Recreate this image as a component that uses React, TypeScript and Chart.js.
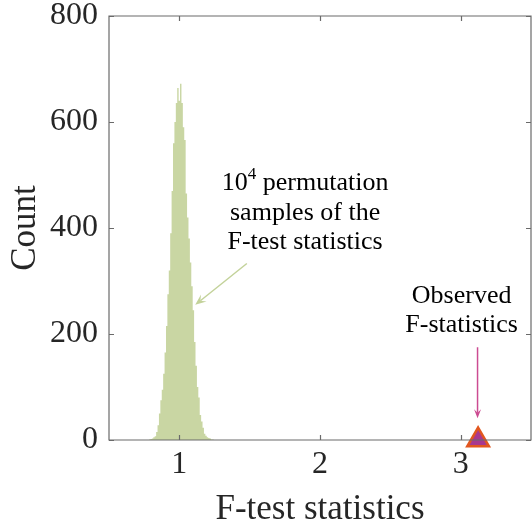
import React, { useEffect, useRef } from 'react';
import { Chart, registerables } from 'chart.js';

Chart.register(...registerables);

// Histogram of 10^4 permutation F-statistics (bin centers and counts)
const binCenters = [
  0.78, 0.79, 0.8, 0.81, 0.82, 0.83, 0.84, 0.85, 0.86, 0.87, 0.88,
  0.89, 0.9, 0.91, 0.92, 0.93, 0.94, 0.95, 0.96, 0.97, 0.98,
  0.99, 1.0, 1.01, 1.02, 1.03, 1.04, 1.05, 1.06, 1.07, 1.08,
  1.09, 1.1, 1.11, 1.12, 1.13, 1.14, 1.15, 1.16, 1.17, 1.18,
  1.19, 1.2, 1.21, 1.22, 1.23, 1.24, 1.25,
];
const binCounts = [
  0, 1, 2, 3, 5, 7, 15, 28, 50, 75, 95,
  125, 165, 215, 275, 320, 390, 470, 560, 600, 636,
  664, 640, 672, 636, 590, 566, 465, 420, 380, 335,
  290, 245, 185, 140, 100, 80, 47, 35, 23, 12,
  8, 5, 4, 3, 1, 1, 0,
];

// Observed F-statistic
const observedX = [3.124];
const observedY = [0];

const xTicks = [1, 2, 3];
const yTicks = [0, 200, 400, 600, 800];
const xRange = [0.5, 3.5];
const yRange = [0, 800];

const xTitle = 'F-test statistics';
const yTitle = 'Count';
const permText = ['10', '4', ' permutation', 'samples of the', 'F-test statistics'];
const obsText = ['Observed', 'F-statistics'];

const FONT = "'Liberation Serif', 'Times New Roman', serif";
const axisColor = '#6a6a6a';
const textColor = '#262626';
const barColor = '#c9d6a3';
const greenArrow = '#c3d29a';
const pinkArrow = '#cc4b92';

function arrow(ctx: CanvasRenderingContext2D, x1: number, y1: number, x2: number, y2: number, color: string, head: number, half: number) {
  const ang = Math.atan2(y2 - y1, x2 - x1);
  ctx.strokeStyle = color;
  ctx.fillStyle = color;
  ctx.lineWidth = 1.5;
  ctx.beginPath();
  ctx.moveTo(x1, y1);
  ctx.lineTo(x2 - Math.cos(ang) * head * 0.6, y2 - Math.sin(ang) * head * 0.6);
  ctx.stroke();
  ctx.beginPath();
  ctx.moveTo(x2, y2);
  ctx.lineTo(x2 - Math.cos(ang) * head + Math.sin(ang) * half, y2 - Math.sin(ang) * head - Math.cos(ang) * half);
  ctx.lineTo(x2 - Math.cos(ang) * head * 0.6, y2 - Math.sin(ang) * head * 0.6);
  ctx.lineTo(x2 - Math.cos(ang) * head - Math.sin(ang) * half, y2 - Math.sin(ang) * head + Math.cos(ang) * half);
  ctx.closePath();
  ctx.fill();
}

const annotationPlugin = {
  id: 'annotations',
  afterDatasetsDraw(chart: any) {
    const { ctx, scales } = chart;
    const xs = scales.x;
    const ys = scales.y;
    const X = (v: number) => xs.getPixelForValue(v);
    const Y = (v: number) => ys.getPixelForValue(v);
    ctx.save();
    ctx.fillStyle = '#000';
    ctx.textBaseline = 'middle';
    const big = `26px ${FONT}`;
    const small = `17px ${FONT}`;
    ctx.font = big;
    const w1 = ctx.measureText(permText[0]).width;
    const w3 = ctx.measureText(permText[2]).width;
    ctx.font = small;
    const w2 = ctx.measureText(permText[1]).width;
    const total = w1 + w2 + w3;
    const cx = X(1.894);
    const y = Y(485);
    const x = cx - total / 2;
    ctx.textAlign = 'left';
    ctx.font = big;
    ctx.fillText(permText[0], x, y);
    ctx.font = small;
    ctx.fillText(permText[1], x + w1, y - 8);
    ctx.font = big;
    ctx.fillText(permText[2], x + w1 + w2, y);
    ctx.textAlign = 'center';
    ctx.fillText(permText[3], cx, Y(428));
    ctx.fillText(permText[4], cx, Y(374));
    const ox = X(3.007);
    ctx.fillText(obsText[0], ox, Y(272));
    ctx.fillText(obsText[1], ox, Y(217));
    arrow(ctx, X(1.48), Y(333), X(1.113), Y(255), greenArrow, 11, 4.5);
    arrow(ctx, X(3.12), Y(175), X(3.12), Y(41), pinkArrow, 9, 3.5);
    ctx.restore();
  },
};

const boxPlugin = {
  id: 'box',
  afterDraw(chart: any) {
    const { ctx, chartArea: a, scales } = chart;
    const xs = scales.x;
    const ys = scales.y;
    ctx.save();
    ctx.strokeStyle = axisColor;
    ctx.lineWidth = 1.2;
    ctx.beginPath();
    ctx.rect(a.left, a.top, a.right - a.left, a.bottom - a.top);
    ctx.stroke();
    ctx.beginPath();
    const tl = 5;
    xTicks.forEach((v) => {
      const px = Math.round(xs.getPixelForValue(v)) + 0.5;
      ctx.moveTo(px, a.bottom);
      ctx.lineTo(px, a.bottom - tl);
      ctx.moveTo(px, a.top);
      ctx.lineTo(px, a.top + tl);
    });
    yTicks.forEach((v) => {
      const py = Math.round(ys.getPixelForValue(v)) + 0.5;
      ctx.moveTo(a.left, py);
      ctx.lineTo(a.left + tl, py);
      ctx.moveTo(a.right, py);
      ctx.lineTo(a.right - tl, py);
    });
    ctx.stroke();
    ctx.restore();
  },
};

export default function App() {
  const ref = useRef<HTMLCanvasElement | null>(null);
  useEffect(() => {
    if (!ref.current) return;
    const chart = new Chart(ref.current, {
      type: 'scatter',
      data: {
        datasets: [
          {
            type: 'line',
            data: binCenters.map((c, i) => ({ x: c, y: binCounts[i] })),
            stepped: 'middle',
            fill: 'origin',
            backgroundColor: barColor,
            borderColor: barColor,
            borderWidth: 0,
            pointRadius: 0,
            order: 2,
          } as any,
          {
            type: 'scatter',
            data: observedX.map((v, i) => ({ x: v, y: observedY[i] })),
            pointStyle: 'triangle',
            pointRadius: 12.5,
            backgroundColor: '#a8388f',
            borderColor: '#e2571f',
            borderWidth: 2.5,
            clip: false,
            order: 1,
          } as any,
        ],
      },
      options: {
        responsive: false,
        animation: false,
        events: [],
        layout: { autoPadding: false, padding: { top: 16, right: 1, left: 0, bottom: 0 } },
        plugins: { legend: { display: false }, tooltip: { enabled: false } },
        scales: {
          x: {
            type: 'linear',
            min: xRange[0],
            max: xRange[1],
            offset: false,
            grid: { display: false, offset: false, drawTicks: false },
            border: { display: false },
            afterBuildTicks: (s: any) => {
              s.ticks = xTicks.map((v) => ({ value: v }));
            },
            afterFit: (s: any) => {
              s.height = 88;
              s.paddingLeft = 0;
              s.paddingRight = 0;
            },
            ticks: {
              padding: 9,
              color: textColor,
              font: { family: FONT, size: 32, lineHeight: 1 },
              maxRotation: 0,
              autoSkip: false,
            },
            title: {
              display: true,
              text: xTitle,
              color: textColor,
              font: { family: FONT, size: 35, lineHeight: 1 },
              padding: { top: 0, bottom: 1 },
            },
          },
          y: {
            type: 'linear',
            min: yRange[0],
            max: yRange[1],
            grid: { display: false, drawTicks: false },
            border: { display: false },
            afterBuildTicks: (s: any) => {
              s.ticks = yTicks.map((v) => ({ value: v }));
            },
            afterFit: (s: any) => {
              s.width = 109;
              s.paddingTop = 0;
              s.paddingBottom = 0;
            },
            ticks: {
              padding: 11,
              color: textColor,
              font: { family: FONT, size: 32, lineHeight: 1 },
              autoSkip: false,
            },
            title: {
              display: true,
              text: yTitle,
              color: textColor,
              font: { family: FONT, size: 35, lineHeight: 1 },
              padding: { top: 8, bottom: 0 },
            },
          },
        },
      } as any,
      plugins: [annotationPlugin, boxPlugin],
    });
    return () => chart.destroy();
  }, []);
  return (
    <div style={{ position: 'absolute', left: 0, top: 0, width: 532, height: 528 }}>
      <canvas ref={ref} width={532} height={528} style={{ display: 'block', width: 532, height: 528 }} />
    </div>
  );
}
